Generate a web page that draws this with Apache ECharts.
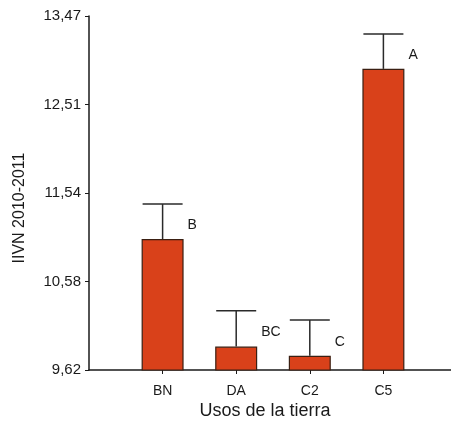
<!DOCTYPE html>
<html>
<head>
<meta charset="utf-8">
<script src="https://cdn.jsdelivr.net/npm/echarts@6/dist/echarts.min.js"></script>
<style>
  html, body { margin: 0; padding: 0; background: #fff; }
  #chart { width: 451px; height: 425px; }
</style>
</head>
<body>
<div id="chart"></div>
<script>
// Land uses (blank slots pad the axis on both ends)
const categories = ['', 'BN', 'DA', 'C2', 'C5', ''];
const landUses = ['BN', 'DA', 'C2', 'C5'];
// Mean IIVN 2010-2011 per land use
const means = [11.05, 9.88, 9.78, 12.90];
// Upper end of the error bar
const upperErr = [11.43, 10.27, 10.17, 13.28];
// Significance groups
const groups = ['B', 'BC', 'C', 'A'];
// Y tick labels
const yTickLabels = ['9,62', '10,58', '11,54', '12,51', '13,47'];
const yStep = 0.9625;

const FONT = '"Liberation Sans", Arial, Helvetica, sans-serif';
const INK = '#1a1a1a';

const chart = echarts.init(document.getElementById('chart'), null, { renderer: 'canvas' });

const barData = landUses.map((c, i) => [c, means[i]]);
const errData = landUses.map((c, i) => [c, means[i], upperErr[i]]);

chart.setOption({
  animation: false,
  backgroundColor: '#ffffff',
  grid: {
    left: 89, width: 368, top: 16, bottom: 55,
    containLabel: false, outerBoundsMode: 'none'
  },
  xAxis: {
    type: 'category',
    data: categories,
    boundaryGap: false,
    axisLine: { lineStyle: { color: INK, width: 1.5 } },
    axisTick: {
      length: 4,
      lineStyle: { color: INK, width: 1 },
      interval: (idx, val) => val !== ''
    },
    axisLabel: {
      color: INK, fontFamily: FONT, fontSize: 14, margin: 14,
      interval: 0
    },
    splitLine: { show: false }
  },
  yAxis: {
    type: 'value',
    min: 10 * yStep,
    max: 14 * yStep,
    interval: yStep,
    axisLine: { show: true, lineStyle: { color: INK, width: 1.5 } },
    axisTick: { show: true, length: 4, lineStyle: { color: INK, width: 1 } },
    axisLabel: {
      color: INK, fontFamily: FONT, fontSize: 15, margin: 8,
      formatter: v => yTickLabels[Math.round(v / yStep) - 10] || ''
    },
    splitLine: { show: false }
  },
  graphic: [
    {
      type: 'text', x: 265, y: 411,
      style: {
        text: 'Usos de la tierra', fill: INK, font: '18px ' + FONT,
        align: 'center', verticalAlign: 'middle'
      }
    },
    {
      type: 'text', x: 20, y: 208, rotation: Math.PI / 2,
      style: {
        text: 'IIVN 2010-2011', fill: INK, font: '16px ' + FONT,
        align: 'center', verticalAlign: 'middle'
      }
    }
  ],
  series: [
    {
      type: 'bar',
      data: barData,
      barWidth: 42,
      itemStyle: { color: '#d9411a', borderColor: '#3a1f12', borderWidth: 1.2 },
      z: 2
    },
    {
      type: 'custom',
      data: errData,
      z: 3,
      renderItem: (params, api) => {
        const x = api.value(0);
        const top = api.coord([x, api.value(2)]);
        const base = api.coord([x, api.value(1)]);
        const cap = 20;
        const midY = (top[1] + base[1]) / 2 + 4;
        return {
          type: 'group',
          children: [
            {
              type: 'line',
              shape: { x1: top[0], y1: base[1], x2: top[0], y2: top[1] },
              style: { stroke: '#2a2a2a', lineWidth: 1.5 }
            },
            {
              type: 'line',
              shape: { x1: top[0] - cap, y1: top[1], x2: top[0] + cap, y2: top[1] },
              style: { stroke: '#2a2a2a', lineWidth: 1.5 }
            },
            {
              type: 'text',
              x: top[0] + 25, y: midY,
              style: {
                text: groups[params.dataIndex], fill: INK, font: '14px ' + FONT,
                align: 'left', verticalAlign: 'middle'
              }
            }
          ]
        };
      }
    }
  ]
});
</script>
</body>
</html>
